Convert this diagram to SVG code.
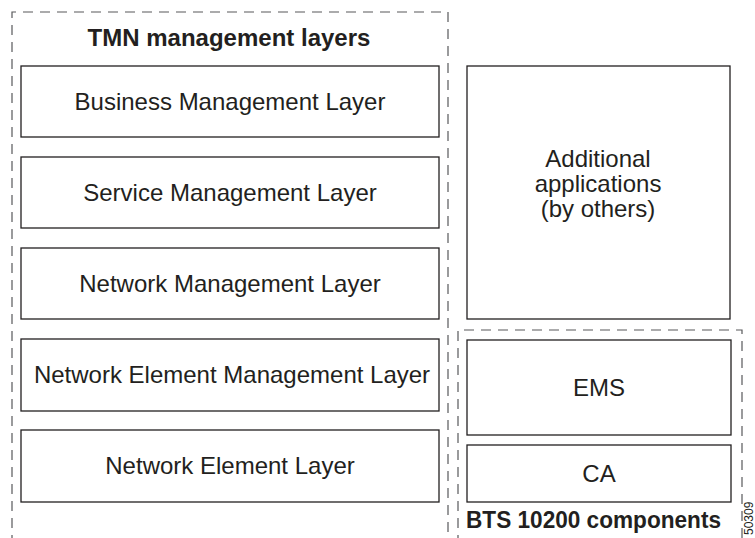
<svg xmlns="http://www.w3.org/2000/svg" width="755" height="538" viewBox="0 0 755 538">
<style>
.box{fill:#fff;stroke:#231f20;stroke-width:1.3}
.dash{fill:none;stroke:#58595b;stroke-width:1.2;stroke-dasharray:10 7}
.t{font-family:"Liberation Sans",Arial,sans-serif;font-size:24px;fill:#231f20;text-anchor:middle}
.b{font-family:"Liberation Sans",Arial,sans-serif;font-weight:bold;fill:#231f20}
</style>
<rect width="755" height="538" fill="#fff"/>
<g id="tmn-group">
<path class="dash" d="M12,545 V12 H448 V545"/>
<text class="b" x="229" y="46" font-size="24" text-anchor="middle">TMN management layers</text>
</g>
<g id="bts-group">
<path class="dash" d="M458,545 V330 H742 V545"/>
<text class="b" x="466" y="528" font-size="23" textLength="255" lengthAdjust="spacingAndGlyphs">BTS 10200 components</text>
</g>
<g id="business"><rect class="box" x="21" y="66" width="418" height="71"/><text class="t" x="230" y="109.5">Business Management Layer</text></g>
<g id="service"><rect class="box" x="21" y="157" width="418" height="71"/><text class="t" x="230" y="200.5">Service Management Layer</text></g>
<g id="network"><rect class="box" x="21" y="248" width="418" height="71"/><text class="t" x="230" y="291.5">Network Management Layer</text></g>
<g id="nem"><rect class="box" x="21" y="339" width="418" height="72"/><text class="t" x="232" y="383">Network Element Management Layer</text></g>
<g id="ne"><rect class="box" x="21" y="430" width="418" height="72"/><text class="t" x="230" y="474">Network Element Layer</text></g>
<g id="additional"><rect class="box" x="467" y="66" width="263" height="253"/><text class="t" x="598" y="167">Additional</text><text class="t" x="598" y="192">applications</text><text class="t" x="598" y="217">(by others)</text></g>
<g id="ems"><rect class="box" x="467" y="340" width="264" height="95"/><text class="t" x="599" y="395.5">EMS</text></g>
<g id="ca"><rect class="box" x="467" y="445" width="264" height="57"/><text class="t" x="599" y="481.5">CA</text></g>
<g id="connectors"></g>
<text font-family="'Liberation Sans',Arial,sans-serif" font-size="12" fill="#231f20" transform="translate(753,535) rotate(-90)">50309</text>
</svg>
